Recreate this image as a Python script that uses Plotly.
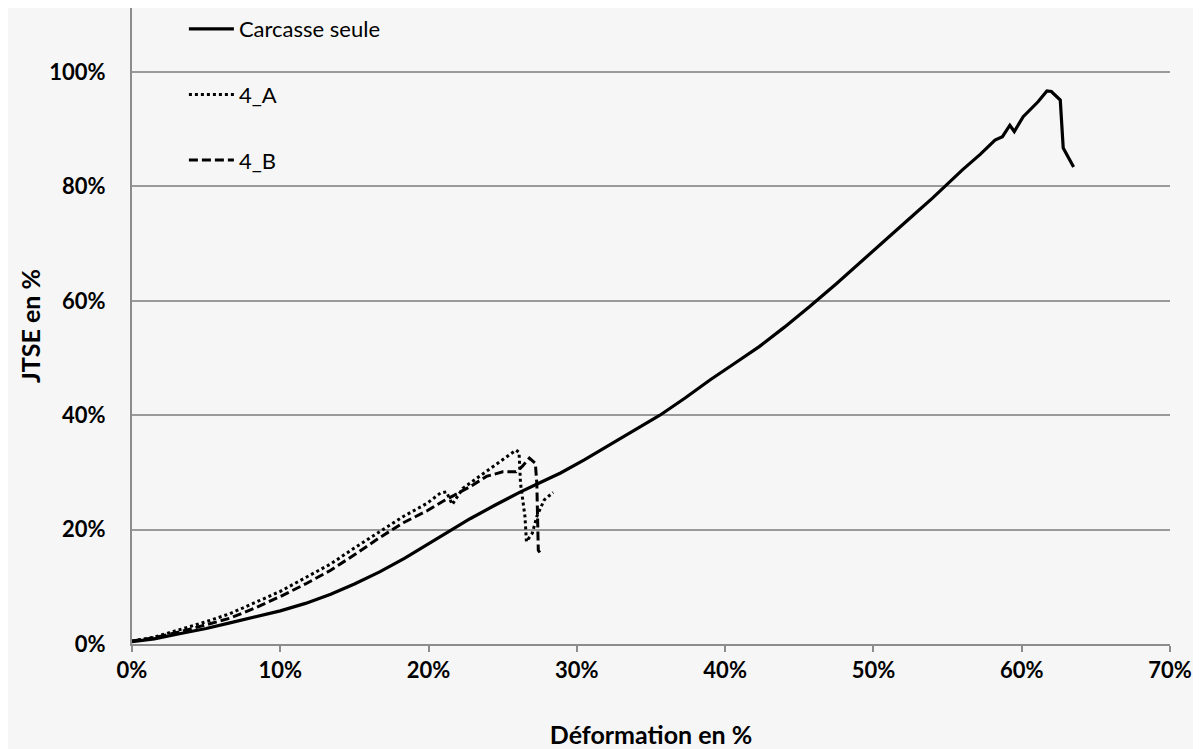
import plotly.graph_objects as go

# Carcasse seule (solid)
carc_x = [0, 1.5, 3.2, 5, 6.6, 8.3, 10, 11.7, 13.4, 15, 16.7, 18.4, 20, 21.5, 22.8, 24.5, 26.2,
          27.5, 28.9, 30.5, 32.2, 33.9, 35.6, 37.3, 39, 40.6, 42.3, 44, 45.7, 47.5, 49.3, 51,
          52.7, 54, 55, 56, 57.2, 58.2, 58.7, 59.2, 59.5, 60.1, 61.1, 61.7, 62, 62.6, 62.8, 63.5]
carc_y = [0.4, 0.9, 1.8, 2.7, 3.7, 4.7, 5.8, 7.1, 8.7, 10.5, 12.6, 15, 17.5, 19.8, 21.9, 24.3, 26.6,
          28.2, 29.9, 32.2, 34.8, 37.3, 40, 43, 46.2, 49, 52, 55.4, 59, 63, 67.1, 71,
          75, 78, 80.5, 82.9, 85.6, 88.1, 88.7, 90.7, 89.6, 92.2, 94.8, 96.7, 96.6, 95.1, 86.7, 83.4]

# 4_A (dotted)
a_x = [0, 1.5, 3.2, 5, 6.6, 8.3, 10, 11.7, 13.4, 15, 16.7, 18.3, 19.9, 20.8, 21.2, 21.6, 22.3,
       23.1, 23.9, 25, 25.9, 26.1, 26.2, 26.5, 26.6, 27, 27.3, 27.8, 28.4]
a_y = [0.5, 1.2, 2.5, 3.9, 5.3, 7.2, 9.2, 11.6, 14, 16.8, 19.7, 22.3, 24.6, 26.4, 26.6, 24.4, 27.2,
       28.7, 30.1, 32.2, 33.9, 33.5, 28.1, 22.3, 17.9, 19.4, 22.3, 25.2, 26.5]

# 4_B (dashed)
b_x = [0, 1.5, 3.2, 5, 6.6, 8.3, 10, 11.7, 13.4, 15, 16.7, 18.3, 19.9, 21, 21.6, 22.8, 23.9,
       25, 25.9, 26.3, 26.8, 27.2, 27.3, 27.4, 27.5]
b_y = [0.5, 1.1, 2.1, 3.3, 4.5, 6.3, 8.3, 10.5, 12.9, 15.6, 18.6, 21.2, 23.3, 25, 25.8, 27.5, 29.3,
       30.1, 30.1, 31, 32.5, 31.6, 28.1, 16.4, 16.0]

x_ticks = [0, 10, 20, 30, 40, 50, 60, 70]
y_ticks = [0, 20, 40, 60, 80, 100]

BG = "#f6f6f6"
FONT = "Lato"

fig = go.Figure()
fig.add_trace(go.Scatter(x=carc_x, y=carc_y, mode="lines", name="Carcasse seule",
                         legendgroup="a", line=dict(color="black", width=3.2)))
fig.add_trace(go.Scatter(x=a_x, y=a_y, mode="lines", name="4_A", legendgroup="b",
                         line=dict(color="black", width=3, dash="3px,3px")))
fig.add_trace(go.Scatter(x=b_x, y=b_y, mode="lines", name="4_B", legendgroup="c",
                         line=dict(color="black", width=3, dash="9px,4px")))

fig.update_layout(
    width=1193, height=741,
    margin=dict(l=124, r=31, t=0, b=105),
    paper_bgcolor=BG, plot_bgcolor=BG,
    font=dict(family=FONT, color="black", size=22),
    showlegend=True,
    legend=dict(x=0.05, y=1.0, xanchor="left", yanchor="top",
                bgcolor="rgba(0,0,0,0)", borderwidth=0, itemwidth=45,
                font=dict(family=FONT, size=22, color="black"),
                traceorder="grouped", tracegroupgap=34),
    xaxis=dict(range=[0, 70], tickvals=x_ticks, ticktext=[f"{v}%" for v in x_ticks],
               showgrid=False, zeroline=False, showline=True, linecolor="#8c8c8c", linewidth=2,
               ticks="outside", ticklen=6, tickcolor="#8c8c8c", tickwidth=1.5,
               tickfont=dict(family=FONT, size=22, color="black", weight="bold"),
               title=dict(text="<b>Déformation en %</b>", font=dict(family=FONT, size=25),
                          standoff=45)),
    yaxis=dict(range=[0, 111.2], tickvals=y_ticks, ticktext=[f"{v}%" for v in y_ticks],
               showgrid=True, gridcolor="#9a9a9a", gridwidth=2, zeroline=False,
               showline=True, linecolor="#8c8c8c", linewidth=2, ticks="",
               ticklabelstandoff=20,
               tickfont=dict(family=FONT, size=22, color="black", weight="bold"),
               title=dict(text="<b>JTSE en %</b>", font=dict(family=FONT, size=25),
                          standoff=2)),
)

fig.write_html("out.html")
